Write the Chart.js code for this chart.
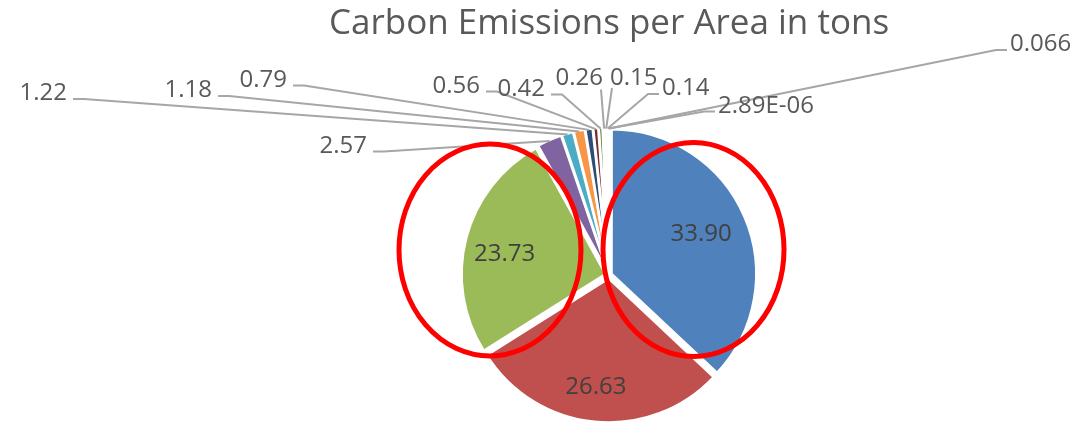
<!DOCTYPE html>
<html>
<head>
<meta charset="utf-8">
<script src="https://cdn.jsdelivr.net/npm/chart.js@4.4.1/dist/chart.umd.min.js"></script>
<style>
  html, body { margin: 0; padding: 0; background: #ffffff; }
  #wrap { width: 1084px; height: 424px; position: relative; }
</style>
</head>
<body>
<div id="wrap"><canvas id="c"></canvas></div>
<script>
// ---------------- data ----------------
const titleText = 'Carbon Emissions per Area in tons';
const categories = ['1', '2', '3', '4', '5', '6', '7', '8', '9', '10', '11', '12', '13', '14'];
const values = [33.90, 26.63, 23.73, 2.57, 1.22, 1.18, 0.79, 0.56, 0.42, 0.26, 0.15, 0.14, 0.066, 0.00000289];

// ---------------- styles / layout ----------------
const sliceColors = ['#4F81BD', '#C0504D', '#9BBB59', '#8064A2', '#4BACC6', '#F79646',
                     '#2C4D75', '#772C2A', '#5F7530', '#4D3B62', '#276A7C', '#B65708',
                     '#729ACA', '#CD7371'];
const FONT = "'Open Sans', 'Noto Sans', sans-serif";
const PIE_RADIUS = 144;
const EXPLODE = 3.5;          // pixel shift of every slice
const LABEL_SIZE = 24;
// inside label nudges [dx, dy]
const innerLabelNudge = { 0: [-5, 1], 1: [-3, 7], 2: [-2, 5.5] };
// outer label layout relative to the pie centre: [side, dx of text edge, dy of baseline]
const outerLabelLayout = {
  3:  ['L', -242, -122.5],
  4:  ['L', -542, -175],
  5:  ['L', -397, -178],
  6:  ['L', -322, -188.5],
  7:  ['L', -129, -182.5],
  8:  ['L',  -64, -179.5],
  9:  ['BL',  -6, -190.5],
  10: ['BR',   1, -190],
  11: ['R',   53, -180],
  12: ['R',  401, -224],
  13: ['R',  109, -162.5]
};
// red annotation ellipses relative to the pie centre: [dx, dy, rx, ry]
const ellipses = [[-119, -25, 91, 106], [84.5, -25.5, 90.5, 107]];

const total = values.reduce((a, b) => a + b, 0);

function fmt(v) {
  if (v < 0.001) {
    const [m, e] = v.toExponential(2).split('e');
    const n = parseInt(e, 10);
    return m + 'E' + (n < 0 ? '-' : '+') + String(Math.abs(n)).padStart(2, '0');
  }
  if (v < 0.1) return String(+v.toPrecision(2));
  return v.toFixed(2);
}

const pieLabels = {
  id: 'pieLabels',
  afterDatasetsDraw(chart) {
    const ctx = chart.ctx;
    const meta = chart.getDatasetMeta(0);
    const first = meta.data[0];
    const cx = first.x, cy = first.y, R = first.outerRadius;
    ctx.save();
    ctx.font = LABEL_SIZE + 'px ' + FONT;
    meta.data.forEach((arc, i) => {
      const mid = (arc.startAngle + arc.endAngle) / 2;
      const txt = fmt(values[i]);
      if (values[i] / total > 0.1) {
        const d = 0.71 * R + EXPLODE;
        const [nx, ny] = innerLabelNudge[i] || [0, 0];
        ctx.fillStyle = '#404040';
        ctx.textAlign = 'center';
        ctx.textBaseline = 'middle';
        ctx.fillText(txt, cx + Math.cos(mid) * d + nx, cy + Math.sin(mid) * d + ny);
        return;
      }
      const lay = outerLabelLayout[i];
      if (!lay) return;
      const [side, dx, dy] = lay;
      const tx = cx + dx, ty = cy + dy;
      const px = cx + Math.cos(mid) * (R + EXPLODE - 1);
      const py = cy + Math.sin(mid) * (R + EXPLODE - 1);
      ctx.strokeStyle = '#A6A6A6';
      ctx.lineWidth = 2;
      ctx.beginPath();
      if (side === 'L') {
        ctx.moveTo(tx + 6, ty - 1);
        ctx.lineTo(tx + 17, ty - 1);
      } else if (side === 'R') {
        ctx.moveTo(tx - 3, ty - 1);
        ctx.lineTo(tx - 14, ty - 1);
      } else if (side === 'BL') {
        ctx.moveTo(tx - 2, ty + 5);
      } else {
        ctx.moveTo(tx + 2, ty + 3);
      }
      ctx.lineTo(px, py);
      ctx.stroke();
      ctx.fillStyle = '#595959';
      ctx.textBaseline = 'alphabetic';
      ctx.textAlign = (side === 'L' || side === 'BL') ? 'right' : 'left';
      ctx.fillText(txt, tx, ty);
    });
    ctx.restore();
  },
  afterDraw(chart) {
    const ctx = chart.ctx;
    const first = chart.getDatasetMeta(0).data[0];
    ctx.save();
    ctx.strokeStyle = '#FF0000';
    ctx.lineWidth = 5;
    ellipses.forEach(([dx, dy, rx, ry]) => {
      ctx.beginPath();
      ctx.ellipse(first.x + dx, first.y + dy, rx, ry, 0, 0, Math.PI * 2);
      ctx.stroke();
    });
    ctx.restore();
  }
};

new Chart(document.getElementById('c'), {
  type: 'pie',
  data: {
    labels: categories,
    datasets: [{
      data: values,
      backgroundColor: sliceColors,
      borderColor: '#ffffff',
      borderWidth: 2.5,
      hoverOffset: 0,
      offset: (c) => {
        const circ = values[c.dataIndex] / total * Math.PI * 2;
        const fix = 1 - Math.sin(Math.min(Math.PI, circ));
        return 4 * EXPLODE / (1 + fix);
      }
    }]
  },
  options: {
    responsive: true,
    maintainAspectRatio: false,
    animation: false,
    events: [],
    radius: PIE_RADIUS,
    layout: { padding: { left: 134, right: 0, top: 0, bottom: 0 } },
    plugins: {
      legend: { display: false },
      tooltip: { enabled: false },
      title: {
        display: true,
        text: titleText,
        color: '#595959',
        font: { family: FONT, size: 35, weight: 'normal', lineHeight: 1.2 },
        padding: { top: 3, bottom: 81 }
      }
    }
  },
  plugins: [pieLabels]
});
</script>
</body>
</html>
